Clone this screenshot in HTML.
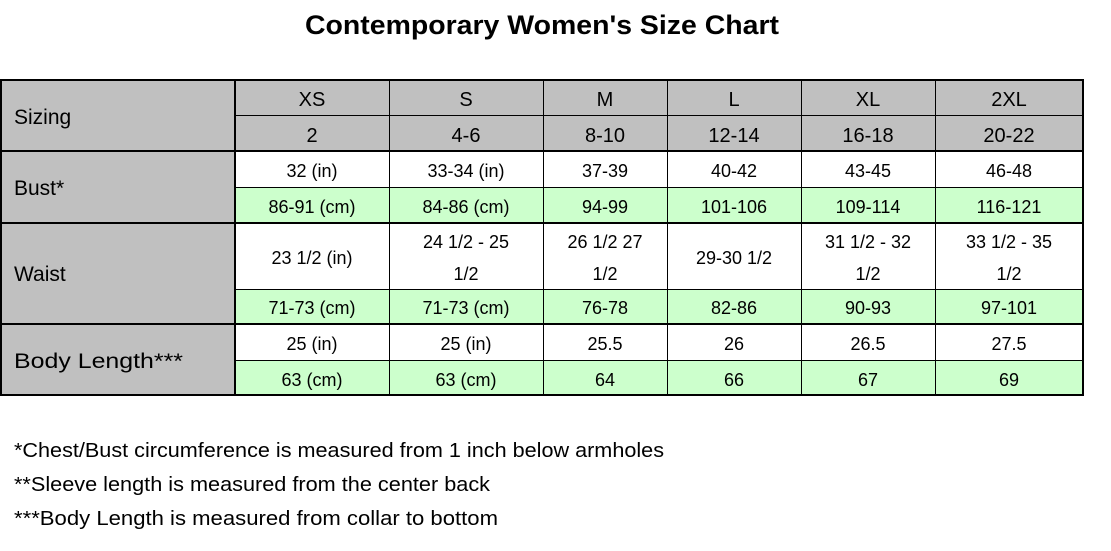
<!DOCTYPE html>
<html><head><meta charset="utf-8"><style>
html,body{margin:0;padding:0;background:#fff;width:1111px;height:551px;overflow:hidden}
svg{display:block}
text{font-family:"Liberation Sans",sans-serif;fill:#000}
</style></head><body>
<svg width="1111" height="551" viewBox="0 0 1111 551">
<text x="305" y="34" font-size="27" font-weight="bold" textLength="474" lengthAdjust="spacingAndGlyphs">Contemporary Women's Size Chart</text>
<rect x="1" y="79" width="1082" height="72" fill="#c0c0c0"/>
<rect x="1" y="151" width="234" height="245" fill="#c0c0c0"/>
<rect x="235" y="187" width="848" height="36" fill="#ccffcc"/>
<rect x="235" y="289" width="848" height="35" fill="#ccffcc"/>
<rect x="235" y="360" width="848" height="36" fill="#ccffcc"/>
<g stroke="#000" stroke-width="1">
<line x1="235" y1="115.5" x2="1083" y2="115.5"/>
<line x1="235" y1="187.5" x2="1083" y2="187.5"/>
<line x1="235" y1="289.5" x2="1083" y2="289.5"/>
<line x1="235" y1="360.5" x2="1083" y2="360.5"/>
<line x1="389.5" y1="79" x2="389.5" y2="396"/>
<line x1="543.5" y1="79" x2="543.5" y2="396"/>
<line x1="667.5" y1="79" x2="667.5" y2="396"/>
<line x1="801.5" y1="79" x2="801.5" y2="396"/>
<line x1="935.5" y1="79" x2="935.5" y2="396"/>
</g>
<g stroke="#000" stroke-width="2">
<line x1="0" y1="80" x2="1084" y2="80"/>
<line x1="0" y1="151" x2="1084" y2="151"/>
<line x1="0" y1="223" x2="1084" y2="223"/>
<line x1="0" y1="324" x2="1084" y2="324"/>
<line x1="0" y1="395" x2="1084" y2="395"/>
<line x1="1" y1="79" x2="1" y2="396"/>
<line x1="235" y1="79" x2="235" y2="396"/>
<line x1="1083" y1="79" x2="1083" y2="396"/>
</g>
<g font-size="21">
<text x="14" y="124">Sizing</text>
<text x="14" y="195">Bust*</text>
<text x="14" y="281">Waist</text>
<text x="14" y="368" textLength="169" lengthAdjust="spacingAndGlyphs">Body Length***</text>
</g>
<g font-size="20" text-anchor="middle">
<text x="312" y="106">XS</text><text x="466" y="106">S</text><text x="605" y="106">M</text><text x="734" y="106">L</text><text x="868" y="106">XL</text><text x="1009" y="106">2XL</text>
<text x="312" y="142">2</text><text x="466" y="142">4-6</text><text x="605" y="142">8-10</text><text x="734" y="142">12-14</text><text x="868" y="142">16-18</text><text x="1009" y="142">20-22</text>
</g>
<g font-size="18" text-anchor="middle">
<text x="312" y="177">32 (in)</text><text x="466" y="177">33-34 (in)</text><text x="605" y="177">37-39</text><text x="734" y="177">40-42</text><text x="868" y="177">43-45</text><text x="1009" y="177">46-48</text>
<text x="312" y="213">86-91 (cm)</text><text x="466" y="213">84-86 (cm)</text><text x="605" y="213">94-99</text><text x="734" y="213">101-106</text><text x="868" y="213">109-114</text><text x="1009" y="213">116-121</text>
<text x="312" y="264">23 1/2 (in)</text>
<text x="466" y="248">24 1/2 - 25</text><text x="466" y="280">1/2</text>
<text x="605" y="248">26 1/2 27</text><text x="605" y="280">1/2</text>
<text x="734" y="264">29-30 1/2</text>
<text x="868" y="248">31 1/2 - 32</text><text x="868" y="280">1/2</text>
<text x="1009" y="248">33 1/2 - 35</text><text x="1009" y="280">1/2</text>
<text x="312" y="314">71-73 (cm)</text><text x="466" y="314">71-73 (cm)</text><text x="605" y="314">76-78</text><text x="734" y="314">82-86</text><text x="868" y="314">90-93</text><text x="1009" y="314">97-101</text>
<text x="312" y="350">25 (in)</text><text x="466" y="350">25 (in)</text><text x="605" y="350">25.5</text><text x="734" y="350">26</text><text x="868" y="350">26.5</text><text x="1009" y="350">27.5</text>
<text x="312" y="386">63 (cm)</text><text x="466" y="386">63 (cm)</text><text x="605" y="386">64</text><text x="734" y="386">66</text><text x="868" y="386">67</text><text x="1009" y="386">69</text>
</g>
<g font-size="20">
<text x="14" y="457" textLength="650" lengthAdjust="spacingAndGlyphs">*Chest/Bust circumference is measured from 1 inch below armholes</text>
<text x="14" y="491" textLength="476" lengthAdjust="spacingAndGlyphs">**Sleeve length is measured from the center back</text>
<text x="14" y="525" textLength="484" lengthAdjust="spacingAndGlyphs">***Body Length is measured from collar to bottom</text>
</g>
</svg>
</body></html>
